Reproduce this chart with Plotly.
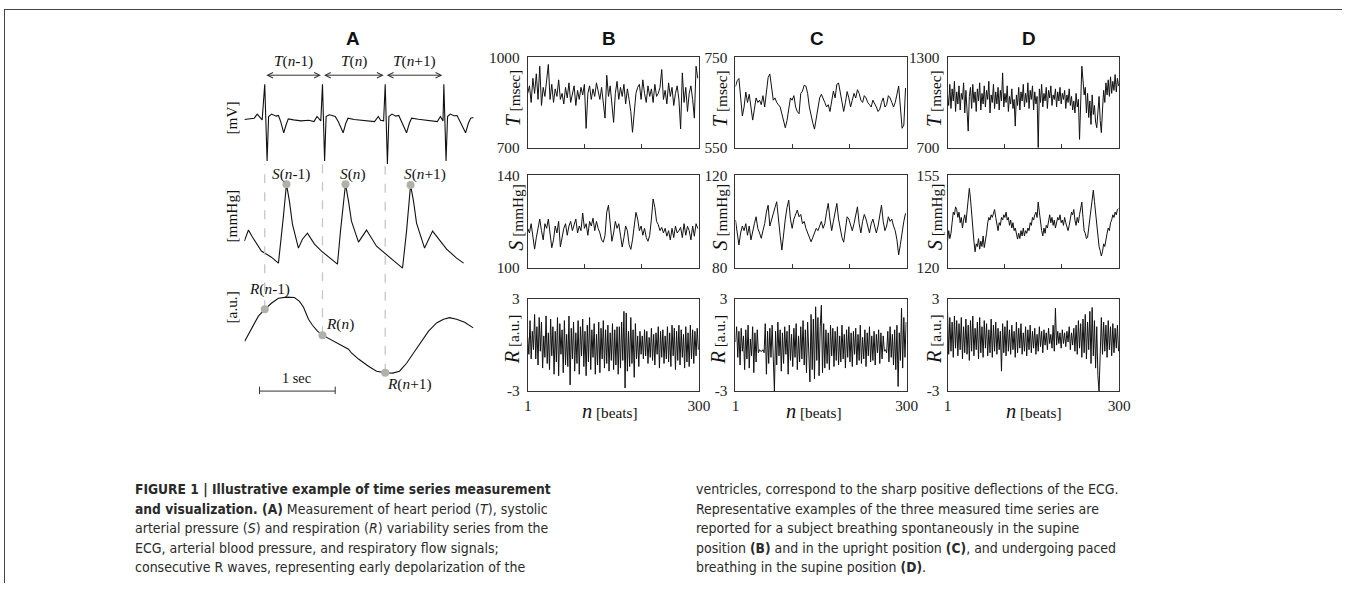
import plotly.graph_objects as go

# Layout helpers: positions are given in the pixel frame of the reference
# picture and converted to paper fractions of the figure.
W, H = 1354, 591
OFF = 8
SX, SY = 0.987, 0.9716
FW, FH = W, H
def PX(x): return (x / SX - OFF) / FW
def PY(y): return 1 - (y / SY - OFF) / FH
def FS(s): return round(s / 0.98, 1)

# ---------------- Panel A : raw signals (time in seconds) ----------------
ecg_t = [0, 0.09, 0.13, 0.17, 0.21, 0.235, 0.269, 0.30, 0.32, 0.36, 0.42, 0.45, 0.48, 0.52, 0.55, 0.58, 0.65, 0.75, 0.85, 0.92, 0.96, 0.99, 1.01,
         1.032, 1.06, 1.08, 1.12, 1.16, 1.20, 1.24, 1.305, 1.34, 1.37, 1.45, 1.55, 1.65, 1.72, 1.77, 1.80, 1.84,
         1.861, 1.89, 1.91, 1.95, 2.0, 2.04, 2.08, 2.143, 2.18, 2.21, 2.3, 2.4, 2.5, 2.55, 2.59, 2.61, 2.625,
         2.636, 2.665, 2.685, 2.72, 2.77, 2.81, 2.85, 2.923, 2.96, 2.99, 3.03]
ecg_mv = [-0.04, -0.02, 0.0, 0.12, 0.0, -0.05, 1.0, -1.26, 0.05, 0.12, 0.06, 0.08, -0.1, -0.43, -0.2, -0.02, -0.05, -0.08, -0.06, -0.1, 0.05, -0.05, -0.08,
          1.0, -1.26, 0.05, 0.1, 0.08, 0.05, -0.1, -0.43, -0.15, 0.0, -0.04, -0.06, -0.07, -0.1, 0.05, -0.06, -0.08,
          1.0, -1.35, 0.05, 0.12, 0.06, 0.08, -0.1, -0.43, -0.15, 0.0, -0.03, -0.05, -0.07, -0.1, 0.05, -0.05, -0.08,
          1.0, -1.26, 0.05, 0.12, 0.07, 0.08, -0.1, -0.43, -0.15, 0.0, 0.02]

abp_t = [0.0, 0.053, 0.106, 0.225, 0.357, 0.45, 0.516, 0.556, 0.595, 0.635, 0.714, 0.767, 0.833, 0.926, 1.019, 1.124, 1.23, 1.27,
         1.336, 1.376, 1.415, 1.508, 1.614, 1.746, 1.878, 2.011, 2.09, 2.143, 2.196, 2.235, 2.275, 2.381, 2.487, 2.672, 2.804, 2.897]
abp_mmhg = [86.8, 94.2, 89.5, 80.1, 76.0, 72.0, 103.6, 125.0, 113.6, 98.2, 82.1, 88.1, 92.1, 84.8, 80.1, 76.0, 71.3, 93.5,
            125.0, 113.6, 100.2, 86.1, 94.2, 83.4, 77.4, 72.0, 68.7, 93.5, 124.4, 113.6, 98.9, 82.1, 93.5, 81.4, 75.4, 72.0]

resp_t = [0.004, 0.093, 0.185, 0.269, 0.357, 0.45, 0.556, 0.661, 0.728, 0.78, 0.847, 0.9, 0.966, 1.032, 1.151, 1.283, 1.376,
          1.415, 1.508, 1.64, 1.746, 1.861, 1.958, 2.05, 2.143, 2.235, 2.341, 2.434, 2.54, 2.632, 2.712, 2.804, 2.91, 3.025]
resp_au = [-0.16, 0.16, 0.5, 0.68, 0.84, 0.97, 1.0, 0.99, 0.89, 0.74, 0.42, 0.26, 0.105, 0.0, -0.13, -0.26, -0.37,
           -0.47, -0.63, -0.82, -0.95, -0.99, -1.0, -0.95, -0.74, -0.47, -0.16, 0.105, 0.32, 0.42, 0.46, 0.42, 0.34, 0.19]

r_peak_t = [0.269, 1.032, 1.861, 2.636]
sys_t = [0.556, 1.336, 2.196]
sys_mmhg = [125.0, 125.0, 124.4]
resp_sample_t = [0.269, 1.032, 1.861]
resp_sample_au = [0.68, 0.0, -0.99]

# ---------------- Panels B, C, D : beat-to-beat series ----------------
beats_3 = list(range(1, 300, 3))   # 100 beats
beats_2 = list(range(1, 300, 2))   # 150 beats

T_B = [880, 905, 850, 930, 880, 945, 860, 970, 840, 900,
       870, 920, 976, 860, 910, 850, 895, 870, 925, 860,
       880, 845, 900, 865, 915, 850, 880, 905, 840, 890,
       860, 900, 875, 910, 764, 880, 905, 860, 895, 870,
       915, 880, 860, 900, 840, 798, 940, 870, 905, 850,
       784, 880, 920, 860, 900, 870, 910, 845, 895, 860,
       820, 751, 830, 880, 900, 910, 860, 925, 880, 850,
       905, 870, 895, 850, 910, 870, 880, 900, 959, 860,
       890, 845, 915, 870, 900, 840, 880, 905, 860, 762,
       948, 850, 900, 820, 880, 905, 860, 798, 970, 930]
S_B = [117, 115, 119, 114, 108, 113, 118, 121, 116, 112,
       119, 117, 121, 114, 108.6, 112, 118, 115, 120, 109,
       113, 117, 119, 114, 118, 120, 116, 119, 121, 115,
       118, 116, 123.6, 117, 119, 114, 120, 118, 121.4, 116,
       120, 117, 115, 112, 111, 114, 124, 127, 120, 111.4,
       115, 120, 117, 119, 114, 108.9, 113, 118, 116, 110,
       107.9, 112, 118, 123.9, 121, 116, 118, 114, 117, 113,
       111.4, 114, 121, 129.7, 126, 120, 118.6, 116, 117.4, 115,
       117, 113.6, 116, 112, 117, 113, 118, 115, 116, 117.4,
       113, 119, 114, 117.9, 116, 112, 118, 113.6, 119, 116.9]
R_B = [0.5, -0.6, 1.6, -0.9, 0.9, -0.3, 2.0, -0.9, 1.2, -1.3, 1.8, -0.4, 1.5, -1.5, 0.6, -0.8, 1.9, -1.2, 0.8, -1.6,
       1.7, -0.7, 1.2, -1.9, 0.9, -1.1, 1.8, -2.0, 1.4, -0.6, 1.0, -1.8, 1.6, -1.3, 0.7, -1.4, 1.9, -2.6, 1.1, -0.9,
       1.5, -1.7, 0.8, -1.2, 1.6, -1.9, 1.2, -0.7, 1.7, -1.4, 0.9, -2.0, 1.3, -1.1, 1.8, -1.6, 1.0, -0.8, 1.4, -1.9,
       0.7, -1.3, 1.5, -1.8, 1.1, -0.9, 1.6, -1.5, 1.0, -1.2, 1.3, -1.7, 0.8, -1.0, 1.4, -1.6, 1.0, -1.3, 1.2, -1.9,
       1.2, -1.5, 1.5, -1.0, 2.2, -2.8, 2.1, -1.7, 0.9, -1.4, 1.8, -1.2, 1.0, -2.1, 1.4, -0.9, 0.6, -1.4, 0.9, -0.6,
       0.6, -0.9, 1.0, -0.7, 0.9, -1.2, 0.5, -0.8, 1.1, -1.0, 0.7, -1.3, 0.8, -0.6, 1.2, -1.5, 0.9, -0.8, 1.0, -1.2,
       0.6, -0.9, 1.2, -1.1, 0.8, -1.4, 1.3, -0.7, 1.1, -1.6, 0.9, -1.0, 1.3, -1.3, 1.0, -0.8, 0.7, -1.5, 1.2, -1.1,
       0.8, -1.4, 1.3, -0.9, 1.0, -1.2, 0.9, -0.7, 1.1, -0.3]

T_C = [685, 698, 703, 660, 620, 640, 673, 650, 668, 640,
       611, 635, 660, 650, 655, 645, 665, 640, 680, 705,
       713, 680, 655, 660, 650, 645, 640, 625, 610, 594,
       610, 640, 660, 655, 665, 640, 630, 625, 670, 675,
       688, 686, 670, 640, 620, 605, 591, 615, 640, 660,
       668, 660, 650, 640, 645, 630, 650, 675, 660, 690,
       693, 670, 645, 630, 650, 674, 660, 640, 655, 670,
       660, 678, 670, 655, 650, 665, 660, 650, 645, 640,
       655, 648, 640, 630, 635, 650, 660, 640, 645, 665,
       660, 650, 640, 650, 665, 686, 640, 593, 600, 682]
S_C = [100.6, 95, 89.8, 95, 98, 96, 99, 94, 98, 92,
       96, 99, 102, 97, 95, 92.7, 96, 99, 104, 107,
       98, 101, 104, 106, 108.5, 100, 94, 87.6, 95, 101,
       106, 109.2, 101, 97, 101, 103, 104.9, 102, 103, 99,
       100, 97, 95, 93, 91.2, 93, 95, 97, 96, 98,
       100, 97, 99, 104, 107.8, 101, 96, 100, 105, 107.8,
       101, 96, 93, 91, 96, 102, 101, 98, 96, 99,
       103, 106.3, 99, 95, 100, 103, 101, 98, 95, 99,
       101, 98, 95, 98, 103, 107, 100, 96, 98, 102,
       100, 101, 98, 96, 92, 85.5, 90, 96, 100, 103.5]
R_C = [0.2, 1.2, -0.8, 0.9, -1.3, 1.1, -0.4, 0.6, -1.6, 1.0, -0.9, 1.3, -1.5, 0.4, -0.7, 1.2, -1.8, 0.8, -1.1, 1.0,
       -0.5, -0.3, -0.4, -0.4, -0.3, -0.5, 1.4, -1.9, 0.9, -1.2, 1.1, -0.8, 1.3, -1.6, -3.0, 0.9, -1.3, 1.5, -0.7, 1.0,
       -1.7, 0.8, -1.2, 1.2, -0.6, 0.9, -1.9, 1.3, -1.0, 0.7, -1.4, 1.1, -0.8, 1.4, -1.6, 0.6, -1.1, 1.2, -0.9, 1.6,
       -1.3, 1.0, -1.8, 1.5, -1.1, -2.4, 2.0, -1.6, 1.7, -2.2, 2.5, -1.0, 1.8, -2.0, 1.2, 2.6, -1.8, 1.4, -1.5, 1.0,
       -1.2, 0.8, -1.6, 1.3, -0.7, 1.1, -1.4, 0.9, -1.0, 1.2, -1.3, 0.6, -1.1, 1.3, -0.9, 0.7, -1.5, 1.0, -0.8, 1.2,
       -1.1, 0.8, -1.4, 0.9, -0.6, 1.1, -1.3, 0.7, -1.0, 1.3, -1.2, 0.5, -0.9, 1.0, -1.4, 0.8, -0.7, 1.2, -1.1, 0.6,
       -1.0, 0.9, -1.3, 0.7, -0.5, 1.0, -1.2, 0.8, -0.9, 0.6, -0.4, -0.3, -0.5, 0.9, -1.1, 1.2, -0.8, 0.7, -1.3, 1.0,
       -1.6, 1.3, -2.7, 0.8, -1.0, 2.4, -1.5, 1.8, -0.8, 1.5]

T_D = [1050, 980, 1120, 960, 1090, 1010, 1140, 940, 1070, 990, 1110, 950, 1060, 1020, 1130, 930, 1080, 970, 810, 1040,
       1100, 960, 1120, 1000, 1070, 940, 1090, 1010, 1130, 950, 1060, 990, 1110, 970, 1080, 1020, 1140, 930, 1050, 1000,
       1120, 960, 1070, 990, 1100, 950, 1080, 1010, 1196, 970, 1060, 1000, 1110, 940, 1040, 990, 1090, 960, 1020, 843,
       1050, 980, 1100, 950, 1070, 1010, 1120, 970, 1060, 1000, 1130, 960, 1080, 1020, 1110, 950, 1070, 990, 1040, 700,
       1090, 1000, 1120, 970, 1060, 1010, 1100, 960, 1080, 1030, 1110, 980, 1050, 1020, 1090, 970, 1070, 1010, 1100, 990,
       1060, 1020, 1080, 960, 1050, 1000, 1090, 980, 1040, 950, 1010, 930, 1060, 970, 1020, 755, 980, 1240, 1150, 1050,
       1100, 930, 1060, 900, 1010, 854, 1050, 920, 980, 870, 832, 960, 1040, 880, 800, 950, 1080, 1000, 1130, 1050,
       1150, 1040, 1170, 1060, 1140, 1080, 1185, 1070, 1160, 1110]
S_D = [130, 134, 131, 133, 137, 141, 140, 143, 142, 139, 141, 137, 139, 135, 138, 140, 137, 141, 145, 150,
       146, 140, 135, 130, 126, 129, 128, 131, 127, 130, 128, 132, 127.6, 130, 133, 137, 139, 138, 140, 139,
       141, 142, 139, 136, 134, 137, 136, 139, 138, 140, 139, 141, 138, 139, 136, 138, 135, 137, 134, 135,
       132, 130.8, 133, 131, 134, 132, 135, 132, 134, 133, 135, 134, 137, 136, 139, 138, 140, 141, 139, 144.8,
       141, 137, 134, 132, 135, 133, 136, 135, 138, 140, 137, 139, 136, 138, 135, 137, 139, 138, 140, 137,
       138, 136, 139, 137, 135, 134, 136, 139, 141, 140, 142, 138, 136, 139, 137, 140, 143, 144.8, 139, 134,
       133, 131, 131.4, 135, 138, 142, 146, 149.3, 145, 140, 138, 132, 128, 126.4, 124.4, 126, 129, 128, 131, 133,
       135, 134, 137, 138, 140, 139, 141, 140, 142, 142.3]
R_D = [2.2, -0.6, 1.8, -0.4, 1.5, -0.8, 1.9, -0.2, 1.6, -0.7, 1.4, -0.3, 1.8, -0.9, 1.2, -0.5, 1.7, -0.6, 1.3, -1.0,
       1.6, -0.4, 1.9, -0.7, 1.1, -0.3, 1.5, -0.9, 1.8, -0.5, 1.2, -0.8, 1.6, -0.2, 1.4, -0.7, 1.0, -0.5, 1.7, -0.8,
       1.3, -0.4, 1.5, -0.6, 1.1, -0.3, 0.9, -1.7, 1.4, -0.5, 1.2, -0.7, 1.6, -0.4, 1.0, -0.6, 1.3, -0.3, 0.9, -0.8,
       1.5, -0.5, 1.1, -0.2, 1.4, -0.6, 0.8, -0.4, 1.2, -0.7, 1.0, -0.3, 1.3, -0.5, 0.9, -0.2, 1.1, -0.6, 0.7, -0.4,
       1.2, -0.1, 0.9, -0.5, 1.0, 0.0, 0.8, -0.3, 1.1, 0.1, 0.7, -0.2, 1.3, -0.4, 2.4, 0.0, 0.9, 0.1, 0.8, -0.2,
       1.0, 0.1, 0.8, -0.1, 0.9, 0.2, 1.2, -0.3, 0.8, 0.0, 1.1, -0.4, 1.3, -0.6, 1.6, -0.2, 1.4, -0.8, 1.7, -0.5,
       2.0, -0.9, 1.5, -0.3, 2.2, -1.2, 2.45, -0.7, 1.6, -1.5, 1.2, -2.0, -3.0, 0.4, 1.8, -0.6, 1.5, -0.4, 1.3, -0.8,
       1.6, -0.3, 1.2, -0.7, 1.4, -0.5, 1.1, -0.2, 1.3, -0.4]

panel_ranges = {
    "B": {"T": (700, 1000), "S": (100, 140), "R": (-3, 3)},
    "C": {"T": (550, 750), "S": (80, 120), "R": (-3, 3)},
    "D": {"T": (700, 1300), "S": (120, 155), "R": (-3, 3)},
}
series = {
    ("B", "T"): (beats_3, T_B), ("B", "S"): (beats_3, S_B), ("B", "R"): (beats_2, R_B),
    ("C", "T"): (beats_3, T_C), ("C", "S"): (beats_3, S_C), ("C", "R"): (beats_2, R_C),
    ("D", "T"): (beats_2, T_D), ("D", "S"): (beats_2, S_D), ("D", "R"): (beats_2, R_D),
}
for k, (xs, ys) in series.items():
    assert len(xs) == len(ys), (k, len(xs), len(ys))

# ---------------- styling / layout ----------------
INK = "#111111"
AXC = "#333333"
SERIF = "Liberation Serif, Times New Roman, serif"
SANS = "Liberation Sans, Arial, sans-serif"
NARROW = "Liberation Sans Narrow, Arial Narrow, DejaVu Sans Condensed, sans-serif"

fig = go.Figure()

# Panel A
fig.add_trace(go.Scatter(x=ecg_t, y=ecg_mv, xaxis="x", yaxis="y", mode="lines",
                         line=dict(color=INK, width=1.1)))
fig.add_trace(go.Scatter(x=abp_t, y=abp_mmhg, xaxis="x", yaxis="y2", mode="lines",
                         line=dict(color=INK, width=1.1)))
for t, v in zip(resp_sample_t, resp_sample_au):
    fig.add_trace(go.Scatter(x=[t, t], y=[v, 4.5], xaxis="x", yaxis="y3", mode="lines",
                             line=dict(color="#c6c6c6", width=1.3, dash="dash")))
fig.add_trace(go.Scatter(x=resp_t, y=resp_au, xaxis="x", yaxis="y3", mode="lines",
                         line=dict(color=INK, width=1.1)))
fig.add_trace(go.Scatter(x=sys_t, y=sys_mmhg, xaxis="x", yaxis="y2", mode="markers",
                         marker=dict(color="#b0b1a8", size=8), cliponaxis=False))
fig.add_trace(go.Scatter(x=resp_sample_t, y=resp_sample_au, xaxis="x", yaxis="y3", mode="markers",
                         marker=dict(color="#b0b1a8", size=8), cliponaxis=False))

layout = dict(
    width=FW, height=FH, margin=dict(l=0, r=0, t=0, b=0),
    paper_bgcolor="white", plot_bgcolor="rgba(0,0,0,0)", showlegend=False,
    xaxis=dict(domain=[PX(248), PX(477)], range=[0, 3.03], visible=False),
    yaxis=dict(domain=[PY(164.6), PY(62.6)], range=[-1.4, 1.6], visible=False),
    yaxis2=dict(domain=[PY(272.45), PY(175.6)], range=[65, 130], visible=False, anchor="x"),
    yaxis3=dict(domain=[PY(380), PY(160)], range=[-1.21, 4.58], visible=False, anchor="x"),
)

col_px = {"B": (531, 702), "C": (738.5, 909.5), "D": (950.3, 1121.7)}
row_px = {"T": (56, 146.5), "S": (174, 266.5), "R": (298, 390)}
TICKF = dict(family=SERIF, size=FS(15), color="#222")

n = 4
for col in ["B", "C", "D"]:
    for row in ["T", "S", "R"]:
        xs, ys = series[(col, row)]
        lo, hi = panel_ranges[col][row]
        fig.add_trace(go.Scatter(x=xs, y=ys, xaxis=f"x{n}", yaxis=f"y{n}", mode="lines",
                                 line=dict(color=INK, width=1)))
        x0, x1 = col_px[col]
        y0, y1 = row_px[row]
        xa = dict(domain=[PX(x0), PX(x1)], range=[1, 300], anchor=f"y{n}",
                  showline=True, mirror=True, linecolor=AXC, linewidth=1,
                  showgrid=False, zeroline=False)
        if row == "R":
            xa.update(tickvals=[1, 300], ticktext=["1", "300"], ticks="", tickfont=TICKF,
                      ticklabelstandoff=1)
        else:
            xa.update(tickvals=[100, 200], ticks="inside", ticklen=4, tickcolor=AXC,
                      showticklabels=False)
        ya = dict(domain=[PY(y1), PY(y0)], range=[lo, hi], anchor=f"x{n}",
                  showline=True, mirror=True, linecolor=AXC, linewidth=1,
                  showgrid=False, zeroline=False, ticks="",
                  tickvals=[lo, hi], ticktext=[str(lo), str(hi)],
                  tickfont=TICKF, ticklabelstandoff=4)
        layout[f"xaxis{n}"] = xa
        layout[f"yaxis{n}"] = ya
        n += 1

ann = []
def A(text, x, y, size=15, family=SERIF, angle=0, xanchor="center", yanchor="middle", color="#111"):
    ann.append(dict(text=text, x=PX(x), y=PY(y), xref="paper", yref="paper", showarrow=False,
                    font=dict(family=family, size=FS(size), color=color), textangle=angle,
                    xanchor=xanchor, yanchor=yanchor))

# panel letters
for letter, x in [("A", 356.7), ("B", 611.7), ("C", 820), ("D", 1031.7)]:
    A(f"<b>{letter}</b>", x, 37, size=18.5, family=SANS)

# panel A labels
A("<i>T</i>(<i>n</i>-1)", 296.7, 60)
A("<i>T</i>(<i>n</i>)", 357.5, 60)
A("<i>T</i>(<i>n</i>+1)", 418, 60)
A("<i>S</i>(<i>n</i>-1)", 295, 172.7)
A("<i>S</i>(<i>n</i>)", 356.7, 172.7)
A("<i>S</i>(<i>n</i>+1)", 428.3, 172.7)
A("<i>R</i>(<i>n</i>-1)", 273, 288)
A("<i>R</i>(<i>n</i>)", 343, 323)
A("<i>R</i>(<i>n</i>+1)", 413, 383)
A("[mV]", 235, 117, angle=-90)
A("[mmHg]", 235, 215, angle=-90)
A("[a.u.]", 235, 306, angle=-90)
A("1 sec", 300.5, 377, size=14)

# axis titles for B, C, D
big = "<span style='font-size:%spx'><i>{}</i></span>" % FS(20)
title_x = {"B": (516.7, 519, 515.5), "C": (723, 723.5, 721.5), "D": (936.7, 938, 936.7)}
for col in ["B", "C", "D"]:
    tx, sx, rx = title_x[col]
    A(big.format("T") + " [msec]", tx, 97, angle=-90)
    A(big.format("S") + " [mmHg]", sx, 216, angle=-90)
    A(big.format("R") + " [a.u.]", rx, 338, angle=-90)
for x in [613, 816.7, 1036.7]:
    A(big.format("n") + " [beats]", x, 410)

# T interval arrows
for i in range(3):
    ann.append(dict(text="", x=r_peak_t[i + 1] - 0.02, ax=r_peak_t[i] + 0.0, xref="x", axref="x",
                    y=PY(74), yref="paper", ayref="pixel", ay=0,
                    showarrow=True, arrowside="end+start", arrowhead=5, startarrowhead=5,
                    arrowsize=1.1, startarrowsize=1.1, arrowwidth=1, arrowcolor="#333",
                    standoff=0, startstandoff=0))

# caption
BS = "<span style='font-size:13.7px'><b>{}</b></span>"
left = [
    BS.format("FIGURE 1 | Illustrative example of time series measurement"),
    BS.format("and visualization. (A)") + " Measurement of heart period (<i>T</i>), systolic",
    "arterial pressure (<i>S</i>) and respiration (<i>R</i>) variability series from the",
    "ECG, arterial blood pressure, and respiratory flow signals;",
    "consecutive R waves, representing early depolarization of the",
]
right = [
    "ventricles, correspond to the sharp positive deflections of the ECG.",
    "Representative examples of the three measured time series are",
    "reported for a subject breathing spontaneously in the supine",
    "position " + BS.format("(B)") + " and in the upright position " + BS.format("(C)") + ", and undergoing paced",
    "breathing in the supine position " + BS.format("(D)") + ".",
]
line_y = [488, 507.5, 527, 546.5, 566]
for txt, y in zip(left, line_y):
    A(txt, 137, y, size=13.7, family=NARROW, xanchor="left", color="#2a2a2a")
for txt, y in zip(right, line_y):
    A(txt, 697, y, size=13.7, family=NARROW, xanchor="left", color="#2a2a2a")

layout["annotations"] = ann

shapes = [
    dict(type="line", xref="paper", yref="paper", x0=0, x1=1, y0=1 - 0.5 / FH, y1=1 - 0.5 / FH,
         line=dict(color="#444", width=1)),
    dict(type="line", xref="paper", yref="paper", x0=0.5 / FW, x1=0.5 / FW, y0=1, y1=0,
         line=dict(color="#444", width=1)),
    # 1-second scale bar
    dict(type="line", xref="x", yref="paper", x0=0.2, x1=1.2, y0=PY(390), y1=PY(390),
         line=dict(color="#333", width=1)),
    dict(type="line", xref="x", yref="paper", x0=0.2, x1=0.2, y0=PY(385.5), y1=PY(393),
         line=dict(color="#333", width=1)),
    dict(type="line", xref="x", yref="paper", x0=1.2, x1=1.2, y0=PY(385.5), y1=PY(393),
         line=dict(color="#333", width=1)),
]
layout["shapes"] = shapes

fig.update_layout(**layout)
fig.write_html("out.html")
